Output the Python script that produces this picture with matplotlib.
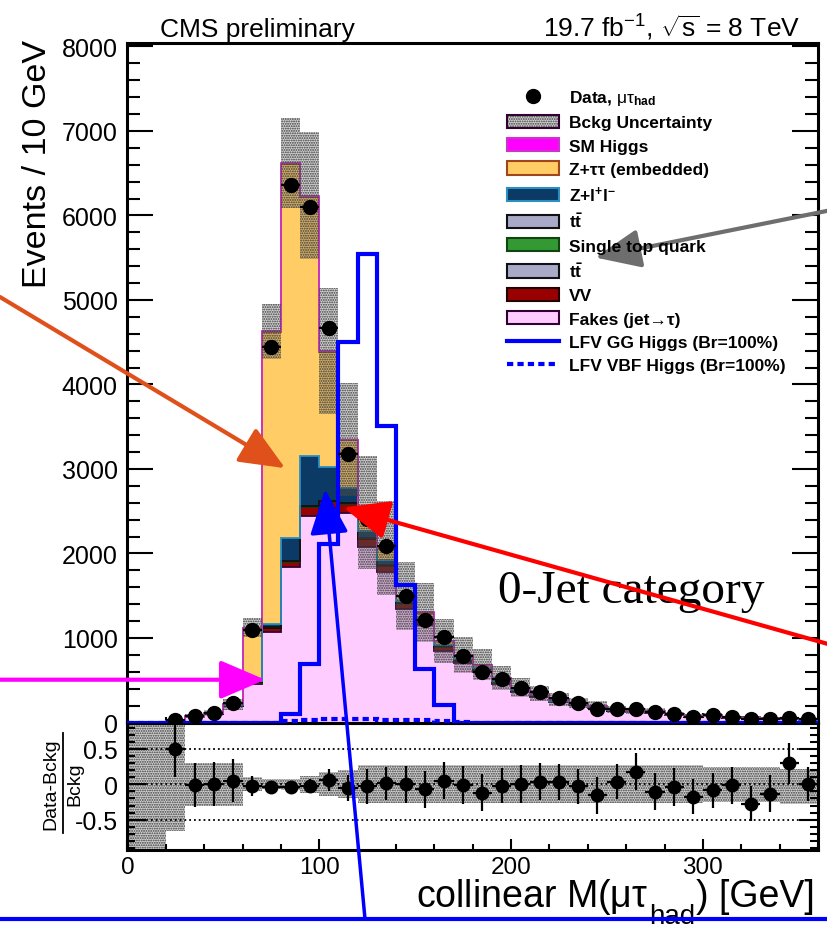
import numpy as np
import matplotlib
matplotlib.use('Agg')
import matplotlib.pyplot as plt
from matplotlib.patches import Patch
from matplotlib.lines import Line2D
from matplotlib.ticker import MultipleLocator, FuncFormatter

plt.rcParams['font.family'] = ['Liberation Sans', 'DejaVu Sans']
plt.rcParams['mathtext.fontset'] = 'custom'
plt.rcParams['mathtext.rm'] = 'Liberation Sans'
plt.rcParams['mathtext.it'] = 'Liberation Sans:italic'
plt.rcParams['mathtext.bf'] = 'Liberation Sans:bold'
plt.rcParams['axes.unicode_minus'] = False
plt.rcParams['hatch.linewidth'] = 0.9

# 10 GeV bins from 0 to 360
edges = np.arange(0, 370, 10)
centers = edges[:-1] + 5

# background stack, bottom to top
fakes = np.array([0, 0, 18, 62, 100, 190, 450, 1070, 1837, 2447, 2535, 2480, 2077, 1780, 1340, 1150, 850, 700,
                  600, 460, 360, 300, 242, 205, 172, 135, 120, 118, 88, 66, 83, 56, 56, 47, 36, 32])
vv = np.array([0, 0, 1, 2, 3, 6, 20, 50, 60, 100, 70, 100, 95, 70, 60, 50, 40, 32,
               26, 20, 16, 13, 10, 8, 7, 6, 5, 5, 4, 3, 3, 2, 2, 2, 1, 1])
ttbar = np.array([0, 0, 0, 1, 1, 1, 2, 3, 4, 5, 5, 6, 6, 6, 5, 5, 4, 4,
                  3, 3, 3, 3, 2, 2, 2, 1, 1, 1, 1, 1, 1, 1, 1, 1, 1, 1])
single_top = np.array([0, 0, 0, 0, 0, 1, 1, 2, 2, 3, 3, 3, 3, 3, 3, 3, 2, 2,
                       2, 2, 2, 1, 1, 1, 1, 1, 1, 1, 1, 1, 1, 1, 0, 0, 0, 0])
ttbar_2 = np.array([0, 0, 0, 0, 0, 1, 1, 2, 2, 3, 3, 4, 4, 3, 3, 3, 3, 2,
                    2, 2, 1, 1, 1, 1, 1, 1, 1, 1, 1, 0, 0, 0, 0, 0, 0, 0])
zll = np.array([0, 0, 1, 3, 3, 5, 15, 40, 276, 592, 402, 180, 80, 60, 30, 25, 18, 12,
                10, 8, 6, 5, 4, 3, 3, 2, 2, 2, 1, 1, 1, 1, 1, 1, 1, 1])
ztautau = np.array([0, 0, 2, 6, 4, 12, 630, 3455, 4425, 3070, 1370, 565, 210, 135, 55, 65, 47, 46,
                    38, 28, 24, 20, 15, 12, 10, 8, 6, 5, 4, 3, 5, 2, 2, 1, 1, 1])
sm_higgs = np.array([0, 0, 0, 0, 0, 0, 1, 8, 15, 14, 10, 8, 6, 4, 3, 2, 2, 1,
                     1, 1, 1, 0, 0, 0, 0, 0, 0, 0, 0, 0, 0, 0, 0, 0, 0, 0])

# relative background uncertainty (up / down)
unc_up = np.array([1.0, 1.0, 1.0, 0.30, 0.30, 0.30, 0.10, 0.07, 0.08, 0.12, 0.17, 0.20, 0.27, 0.27, 0.27, 0.27, 0.27, 0.27,
                   0.27, 0.27, 0.27, 0.27, 0.27, 0.27, 0.27, 0.27, 0.27, 0.27, 0.27, 0.27, 0.25, 0.25, 0.25, 0.25, 0.21, 0.21])
unc_down = np.array([1.0, 1.0, 0.66, 0.30, 0.30, 0.30, 0.10, 0.07, 0.08, 0.12, 0.17, 0.20, 0.27, 0.27, 0.27, 0.27, 0.27, 0.27,
                     0.27, 0.27, 0.27, 0.27, 0.27, 0.27, 0.27, 0.27, 0.27, 0.27, 0.27, 0.27, 0.25, 0.25, 0.25, 0.25, 0.28, 0.28])

# LFV signal shapes
lfv_gg = np.array([0, 0, 0, 0, 0, 0, 0, 0, 95, 690, 2110, 4500, 5545, 3510, 1630, 635, 205, 0,
                   0, 0, 0, 0, 0, 0, 0, 0, 0, 0, 0, 0, 0, 0, 0, 0, 0, 0])
lfv_vbf = np.array([0, 0, 0, 0, 0, 0, 0, 0, 22, 32, 36, 38, 38, 35, 30, 25, 18, 6,
                    0, 0, 0, 0, 0, 0, 0, 0, 0, 0, 0, 0, 0, 0, 0, 0, 0, 0])

data = np.array([0, 0, 33, 73, 112, 227, 1098, 4447, 6365, 6104, 4665, 3178, 2405, 2085, 1500, 1213, 1015, 791,
                 601, 515, 413, 355, 284, 225, 165, 160, 160, 119, 96, 62, 86, 62, 45, 45, 52, 36])
ratio_err = np.array([0, 0, 0.40, 0.31, 0.31, 0.30, 0.14, 0.07, 0.07, 0.10, 0.16, 0.18, 0.25, 0.24, 0.26, 0.26, 0.26, 0.27,
                      0.26, 0.25, 0.27, 0.26, 0.26, 0.25, 0.26, 0.25, 0.26, 0.26, 0.27, 0.25, 0.25, 0.26, 0.25, 0.26, 0.29, 0.24])

W, H = 828, 929
fig = plt.figure(figsize=(W / 100, H / 100), dpi=100)
ax = fig.add_axes([127.5 / W, 1 - 723.5 / H, 690.5 / W, 679.5 / H])
ax_r = fig.add_axes([127.5 / W, 1 - 851 / H, 690.5 / W, 127.5 / H])
ax.set_zorder(3)
ax.patch.set_visible(False)

layers = [
    (fakes, '#FFCCFF', '#330033'),
    (vv, '#990000', '#220000'),
    (ttbar, '#A9A9C8', '#111111'),
    (single_top, '#339933', '#114411'),
    (ttbar_2, '#A9A9C8', '#111111'),
    (zll, '#0B3A66', '#2C8FC0'),
    (ztautau, '#FFCC66', '#A0461A'),
    (sm_higgs, '#FF00FF', '#CC33CC'),
]
bottom = np.zeros(len(centers))
for vals, fc, ec in layers:
    top = bottom + vals
    ax.stairs(top, edges, baseline=bottom, fill=True, color=fc, lw=0, zorder=2)
    ax.stairs(top, edges, baseline=None, color=ec, lw=1.3, zorder=3)
    bottom = top
total = bottom

# uncertainty band on the stack
band_face = (0.42, 0.42, 0.42, 0.30)
lo = total * (1 - unc_down)
hi = total * (1 + unc_up)
ax.fill_between(edges, np.append(lo, lo[-1]), np.append(hi, hi[-1]), step='post',
                facecolor=band_face, edgecolor='#3a3a3a', hatch='.......', lw=0, zorder=4)

ax.stairs(lfv_gg, edges, baseline=None, color='#0000FF', lw=3, zorder=5)
ax.stairs(lfv_vbf, edges, baseline=None, color='#0000FF', lw=3, ls=(0, (1.5, 1)), zorder=5)

has = data > 0
ax.errorbar(centers[has], data[has], xerr=5, yerr=np.sqrt(data[has]), fmt='o', color='black',
            ms=10, elinewidth=1.6, capsize=0, zorder=6)

ax.set_xlim(0, 360)
ax.set_ylim(0, 8040)
ax.yaxis.set_major_locator(MultipleLocator(1000))
ax.yaxis.set_minor_locator(MultipleLocator(200))
ax.xaxis.set_major_locator(MultipleLocator(100))
ax.xaxis.set_minor_locator(MultipleLocator(20))
ax.tick_params(axis='y', which='major', direction='in', length=19, width=1.5, right=True, labelsize=18, pad=7)
ax.tick_params(axis='y', which='minor', direction='in', length=9.5, width=1.5, right=True)
ax.tick_params(axis='x', which='major', direction='in', length=7, width=1.5, labelbottom=False)
ax.tick_params(axis='x', which='minor', direction='in', length=4, width=1.5)
for s in ax.spines.values():
    s.set_linewidth(2.2)

ax.text(193.3, 1424, '0-Jet category', family='Liberation Serif', fontsize=34, va='baseline', zorder=7)

# ratio panel
good = (data > 0) & (total > 0)
ratio = (data[good] - total[good]) / total[good]
ax_r.fill_between(edges, np.append(-unc_down, -unc_down[-1]), np.append(unc_up, unc_up[-1]), step='post',
                  facecolor=band_face, edgecolor='#3a3a3a', hatch='.......', lw=0, zorder=1)
for yv in (0.5, 0, -0.5):
    ax_r.axhline(yv, ls=':', color='black', lw=1.3, zorder=2)
ax_r.errorbar(centers[good], ratio, xerr=5, yerr=ratio_err[good], fmt='o', color='black',
              ms=9, elinewidth=1.6, capsize=0, zorder=3)
ax_r.set_xlim(0, 360)
ax_r.set_ylim(-0.929, 0.874)
ax_r.yaxis.set_major_locator(MultipleLocator(0.5))
ax_r.yaxis.set_minor_locator(MultipleLocator(0.1))
ax_r.yaxis.set_major_formatter(FuncFormatter(lambda v, p: '%g' % v))
ax_r.xaxis.set_major_locator(MultipleLocator(100))
ax_r.xaxis.set_minor_locator(MultipleLocator(20))
ax_r.tick_params(axis='y', which='major', direction='in', length=14, width=1.5, right=True, labelsize=18, pad=7)
ax_r.tick_params(axis='y', which='minor', direction='in', length=6, width=1.5, right=True)
ax_r.tick_params(axis='x', which='major', direction='in', length=8, width=1.5, labelsize=17.5, pad=4)
ax_r.tick_params(axis='x', which='minor', direction='in', length=4, width=1.5)
for s in ax_r.spines.values():
    s.set_linewidth(2.2)

fig.text(38 / W, 1 - 40 / H, 'Events / 10 GeV', rotation=90, ha='center', va='top', fontsize=24.5)
# ratio axis title drawn as a stacked fraction
fig.text(51 / W, 1 - 784 / H, 'Data-Bckg', rotation=90, ha='center', va='center', fontsize=14)
fig.text(75 / W, 1 - 784 / H, 'Bckg', rotation=90, ha='center', va='center', fontsize=14)
fig.add_artist(Line2D([63 / W, 63 / W], [1 - 734 / H, 1 - 834 / H], transform=fig.transFigure,
                      color='black', lw=1.3))

# x axis title in three pieces so the subscript can sit low, ROOT style
renderer = fig.canvas.get_renderer()
t1 = fig.text(416 / W, 1 - 907 / H, r'collinear M($\mathrm{\mu\tau}$', ha='left', va='baseline', fontsize=27)
x1 = t1.get_window_extent(renderer).x1
t2 = fig.text((x1 + 1) / W, 1 - 924 / H, 'had', ha='left', va='baseline', fontsize=20)
x2 = t2.get_window_extent(renderer).x1
fig.text((x2 + 1) / W, 1 - 907 / H, ') [GeV]', ha='left', va='baseline', fontsize=27)

fig.text(160 / W, 1 - 37 / H, 'CMS preliminary', ha='left', va='baseline', fontsize=19)
fig.text(800 / W, 1 - 37 / H, r'19.7 fb$^{-1}$, $\sqrt{\mathrm{s}}$ = 8 TeV', ha='right', va='baseline', fontsize=19)

handles = [
    Line2D([], [], marker='o', color='black', ls='none', ms=10),
    (Patch(facecolor=band_face, edgecolor='#3a3a3a', hatch='.......', lw=0),
     Patch(facecolor='none', edgecolor='#330033', lw=1.5)),
    Patch(facecolor='#FF00FF', edgecolor='#CC33CC', lw=1.5),
    Patch(facecolor='#FFCC66', edgecolor='#A0461A', lw=1.5),
    Patch(facecolor='#0B3A66', edgecolor='#2C8FC0', lw=1.5),
    Patch(facecolor='#A9A9C8', edgecolor='#111111', lw=1.5),
    Patch(facecolor='#339933', edgecolor='#114411', lw=1.5),
    Patch(facecolor='#A9A9C8', edgecolor='#111111', lw=1.5),
    Patch(facecolor='#990000', edgecolor='#220000', lw=1.5),
    Patch(facecolor='#FFCCFF', edgecolor='#330033', lw=1.5),
    Line2D([], [], color='#0000FF', lw=3),
    Line2D([], [], color='#0000FF', lw=3, ls=(0, (1.5, 1))),
]
labels = [
    r'Data, $\mathrm{\mu\tau}_{\mathbf{had}}$',
    'Bckg Uncertainty',
    'SM Higgs',
    'Z+ττ (embedded)',
    r'Z+l$^{\mathbf{+}}$l$^{\mathbf{-}}$',
    r'$\mathbf{t\bar{t}}$',
    'Single top quark',
    r'$\mathbf{t\bar{t}}$',
    'VV',
    'Fakes (jet→τ)',
    'LFV GG Higgs (Br=100%)',
    'LFV VBF Higgs (Br=100%)',
]
leg = fig.legend(handles, labels, loc='upper left', bbox_to_anchor=(507 / W, 1 - 89 / H),
                 bbox_transform=fig.transFigure, frameon=False,
                 prop=dict(family=['Liberation Sans', 'DejaVu Sans'], weight='bold', size=12.5),
                 handlelength=3.0, handleheight=0.8, handletextpad=0.55, labelspacing=0.44,
                 borderpad=0, borderaxespad=0)
leg.set_zorder(10)

# slide annotations
arrow_style = '-|>,head_length=1.4,head_width=0.6'
notes = [
    ((243.9, 5502), (1.0, 1 - 211.7 / H), '#6e6e6e', 3),
    ((82.2, 3009), (0.0, 1 - 298 / H), '#E0501A', 3),
    ((71.8, 506), (0.0, 1 - 680.7 / H), '#FF00FF', 3),
    ((112.6, 2544), (1.0, 1 - 645 / H), '#FF0000', 3),
    ((103.0, 2760), (365 / W, 1 - 920 / H), '#0000FF', 2.5),
]
for tip, tail, col, lw in notes:
    ann = ax.annotate('', xy=tip, xycoords='data', xytext=tail, textcoords='figure fraction',
                      arrowprops=dict(arrowstyle=arrow_style, color=col, lw=lw, shrinkA=0, shrinkB=0,
                                      mutation_scale=20),
                      annotation_clip=False, zorder=20)
    ann.arrow_patch.set_clip_on(False)

fig.add_artist(Line2D([0, 1], [1 - 920 / H, 1 - 920 / H], transform=fig.transFigure,
                      color='#0000FF', lw=3, zorder=30))

fig.savefig('out.png', dpi=100)
